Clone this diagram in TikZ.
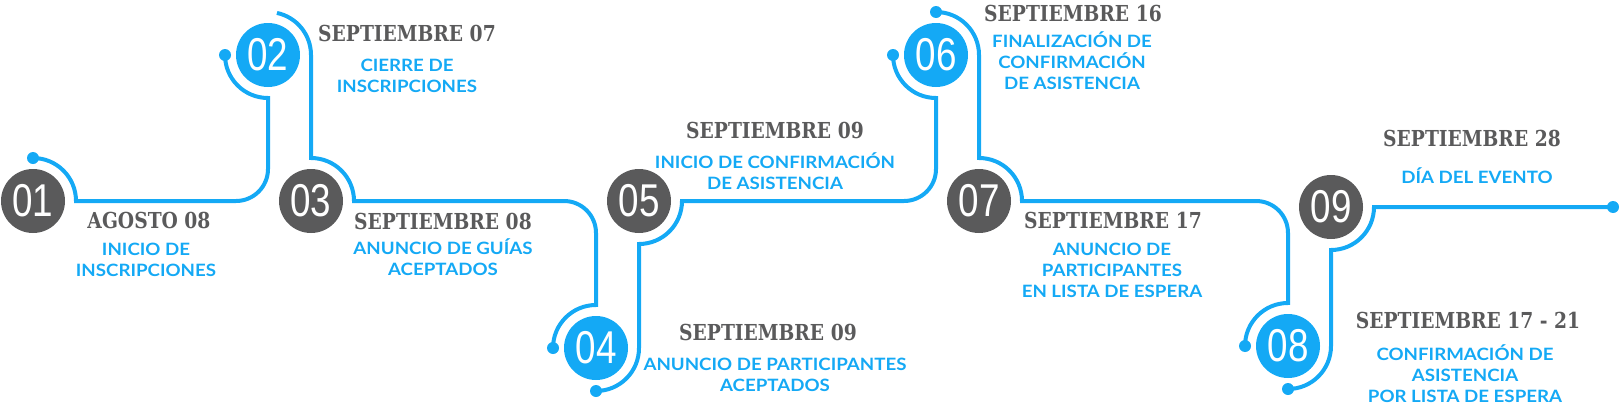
\documentclass[tikz,border=0pt]{standalone}
\usepackage{fontspec}
\usetikzlibrary{calc}
\definecolor{tlblue}{HTML}{14A9F5}
\definecolor{tlgray}{HTML}{5A5A5B}
\newfontfamily\numfont[FakeStretch=0.8]{Liberation Sans}
\newfontfamily\datefont[FakeStretch=0.85]{DejaVu Serif}
\newfontfamily\descfont[FakeStretch=1.1]{Lato}
\tikzset{
  num/.style={circle, inner sep=0pt, minimum size=64pt, text=white,
    font=\numfont\fontsize{46}{46}\selectfont},
  numg/.style={num, fill=tlgray},
  numb/.style={num, fill=tlblue},
  datetxt/.style={anchor=base, inner sep=0pt, text=tlgray,
    font=\datefont\bfseries\fontsize{22}{22}\selectfont},
  desctxt/.style={anchor=base, inner sep=0pt, align=center, text=tlblue,
    font=\descfont\bfseries\fontsize{17}{21}\selectfont},
  tline/.style={tlblue, line width=4pt},
}
\begin{document}
\begin{tikzpicture}[x=1pt,y=1pt]
    \useasboundingbox (0,0) rectangle (1620,-407);
    % circles
    \node[numg] (c01) at (33,-201) {01};
    \node[numb] (c02) at (268,-55) {02};
    \node[numg] (c03) at (311,-201) {03};
    \node[numb] (c04) at (596,-348) {04};
    \node[numg] (c05) at (639,-201) {05};
    \node[numb] (c06) at (936,-55) {06};
    \node[numg] (c07) at (979,-201) {07};
    \node[numb] (c08) at (1288,-346) {08};
    \node[numg] (c09) at (1331,-207) {09};
    \coordinate (tail) at (1613,-207);

    % connectors
    \draw[tline] ([shift={(90:43)}]c01.center) coordinate (dA1)
        arc[start angle=90, end angle=0, radius=43pt]
        -- ([xshift=-32pt]c02.center |- c01.center)
        arc[start angle=270, end angle=360, radius=32pt]
        -- ([shift={(270:43)}]c02.center)
        arc[start angle=270, end angle=180, radius=43pt] coordinate (dA2);
    \draw[tline] ([shift={(78:43)}]c02.center)
        arc[start angle=78, end angle=0, radius=43pt]
        -- ([shift={(90:43)}]c03.center)
        arc[start angle=90, end angle=0, radius=43pt]
        -- ([xshift=-32pt]c04.center |- c03.center)
        arc[start angle=90, end angle=0, radius=32pt]
        -- ([shift={(90:43)}]c04.center)
        arc[start angle=90, end angle=180, radius=43pt] coordinate (dB2);
    \draw[tline] ([shift={(270:43)}]c04.center) coordinate (dC1)
        arc[start angle=270, end angle=360, radius=43pt]
        -- ([shift={(270:43)}]c05.center)
        arc[start angle=270, end angle=360, radius=43pt]
        -- ([xshift=-32pt]c06.center |- c05.center)
        arc[start angle=270, end angle=360, radius=32pt]
        -- ([shift={(270:43)}]c06.center)
        arc[start angle=270, end angle=180, radius=43pt] coordinate (dC2);
    \draw[tline] ([shift={(90:43)}]c06.center) coordinate (dD1)
        arc[start angle=90, end angle=0, radius=43pt]
        -- ([shift={(90:43)}]c07.center)
        arc[start angle=90, end angle=0, radius=43pt]
        -- ([xshift=-32pt]c08.center |- c07.center)
        arc[start angle=90, end angle=0, radius=32pt]
        -- ([shift={(90:43)}]c08.center)
        arc[start angle=90, end angle=180, radius=43pt] coordinate (dD2);
    \draw[tline] ([shift={(270:43)}]c08.center) coordinate (dE1)
        arc[start angle=270, end angle=360, radius=43pt]
        -- ([shift={(270:43)}]c09.center)
        arc[start angle=270, end angle=360, radius=43pt]
        -- (tail);
    \foreach \d in {dA1,dA2,dB2,dC1,dC2,dD1,dD2,dE1,tail}
        \fill[tlblue] (\d) circle (6pt);

    % dates
    \node[datetxt] (t01) at (149,-228) {AGOSTO 08};
    \node[datetxt] (t02) at (407,-41) {SEPTIEMBRE 07};
    \node[datetxt] (t03) at (443,-229) {SEPTIEMBRE 08};
    \node[datetxt] (t04) at (768,-340) {SEPTIEMBRE 09};
    \node[datetxt] (t05) at (775,-138) {SEPTIEMBRE 09};
    \node[datetxt] (t06) at (1073,-21) {SEPTIEMBRE 16};
    \node[datetxt] (t07) at (1113,-228) {SEPTIEMBRE 17};
    \node[datetxt] (t08) at (1468,-328) {SEPTIEMBRE 17 - 21};
    \node[datetxt] (t09) at (1472,-146) {SEPTIEMBRE 28};

    % descriptions (base = last line)
    \node[desctxt] (d01) at (146,-276) {INICIO DE\\INSCRIPCIONES};
    \node[desctxt] (d02) at (407,-92) {CIERRE DE\\INSCRIPCIONES};
    \node[desctxt] (d03) at (443,-275) {ANUNCIO DE GUÍAS\\ACEPTADOS};
    \node[desctxt] (d04) at (775,-391) {ANUNCIO DE PARTICIPANTES\\ACEPTADOS};
    \node[desctxt] (d05) at (775,-189) {INICIO DE CONFIRMACIÓN\\DE ASISTENCIA};
    \node[desctxt] (d06) at (1072,-89) {FINALIZACIÓN DE\\CONFIRMACIÓN\\DE ASISTENCIA};
    \node[desctxt] (d07) at (1112,-297) {ANUNCIO DE\\PARTICIPANTES\\EN LISTA DE ESPERA};
    \node[desctxt] (d08) at (1465,-402) {CONFIRMACIÓN DE\\ASISTENCIA\\POR LISTA DE ESPERA};
    \node[desctxt] (d09) at (1477,-183) {DÍA DEL EVENTO};
\end{tikzpicture}
\end{document}
